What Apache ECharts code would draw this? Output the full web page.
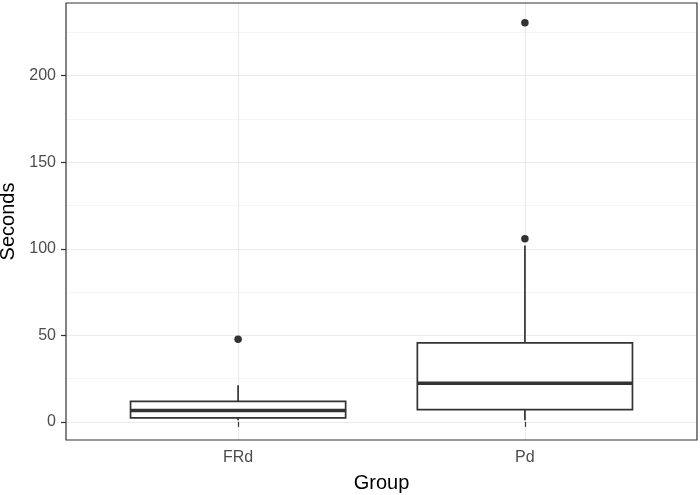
<!DOCTYPE html>
<html><head><meta charset="utf-8">
<script src="https://cdn.jsdelivr.net/npm/echarts@6/dist/echarts.min.js"></script>
<style>html,body{margin:0;padding:0;background:#fff}#c{width:700px;height:495px}</style>
</head><body><div id="c"></div>
<script>
const categories = ['FRd', 'Pd'];
const whiskerLow = [1.0, 1.0];
const q1 = [2.3, 7.1];
const median = [6.6, 22.3];
const q3 = [11.8, 45.6];
const whiskerHigh = [21.2, 101.9];
const outlierGroup = ['FRd', 'Pd', 'Pd'];
const outlierValue = [47.7, 105.8, 230.5];
const yTicks = [0, 50, 100, 150, 200];
const yMinorTicks = [25, 75, 125, 175, 225];

const boxData = categories.map((c, i) => [i + 1, whiskerLow[i], q1[i], median[i], q3[i], whiskerHigh[i]]);
const outlierData = outlierGroup.map((g, i) => [categories.indexOf(g) + 1, outlierValue[i]]);

const lo = Math.min(...whiskerLow, ...outlierValue);
const hi = Math.max(...whiskerHigh, ...outlierValue);
const pad = 0.05 * (hi - lo);
const yMin = lo - pad, yMax = hi + pad;
const xPos = categories.map((c, i) => i + 1);

const FONT = 'Liberation Sans, Arial, sans-serif';
const DARK = '#333333';

function renderBox(params, api) {
  const x = api.value(0);
  const hw = 0.375;
  const pLo = api.coord([x, api.value(1)]);
  const pQ1 = api.coord([x, api.value(2)]);
  const pMed = api.coord([x, api.value(3)]);
  const pQ3 = api.coord([x, api.value(4)]);
  const pHi = api.coord([x, api.value(5)]);
  const left = api.coord([x - hw, 0])[0];
  const right = api.coord([x + hw, 0])[0];
  const cx = pLo[0];
  const ls = { stroke: DARK, lineWidth: 1.7, fill: null };
  return {
    type: 'group', children: [
      { type: 'line', shape: { x1: cx, y1: pQ3[1], x2: cx, y2: pHi[1] }, style: ls },
      { type: 'line', shape: { x1: cx, y1: pQ1[1], x2: cx, y2: pLo[1] }, style: ls },
      { type: 'rect', shape: { x: left, y: pQ3[1], width: right - left, height: pQ1[1] - pQ3[1] }, style: { stroke: DARK, lineWidth: 1.7, fill: '#ffffff' } },
      { type: 'line', shape: { x1: left, y1: pMed[1], x2: right, y2: pMed[1] }, style: { stroke: DARK, lineWidth: 3.4 } }
    ]
  };
}

const chart = echarts.init(document.getElementById('c'), null, { renderer: 'canvas' });
chart.setOption({
  animation: false,
  backgroundColor: '#ffffff',
  textStyle: { fontFamily: FONT },
  grid: { left: 66, right: 3, top: 3, bottom: 55, show: true, borderColor: DARK, borderWidth: 1.2, backgroundColor: 'transparent', z: 10, outerBoundsMode: 'none', containLabel: false },
  xAxis: {
    type: 'value', min: 0.4, max: 2.6,
    axisLine: { show: false },
    axisTick: { show: true, customValues: xPos, length: 5, lineStyle: { color: DARK, width: 1.2 } },
    axisLabel: { customValues: xPos, formatter: v => categories[Math.round(v) - 1], fontSize: 16, color: '#4d4d4d', margin: 10, fontFamily: FONT },
    splitLine: { show: true, lineStyle: { color: '#ebebeb', width: 1.2 } },
    name: 'Group', nameLocation: 'middle', nameGap: 33,
    nameTextStyle: { fontSize: 20, color: '#000000', fontFamily: FONT }
  },
  yAxis: [{
    type: 'value', min: yMin, max: yMax,
    axisLine: { show: false },
    axisTick: { show: true, customValues: yTicks, length: 5, lineStyle: { color: DARK, width: 1.2 } },
    axisLabel: { customValues: yTicks, fontSize: 16, color: '#4d4d4d', margin: 10, fontFamily: FONT },
    splitLine: { show: true, lineStyle: { color: '#ebebeb', width: 1.2 } },
    name: 'Seconds', nameLocation: 'middle', nameGap: 42,
    nameTextStyle: { fontSize: 20, color: '#000000', fontFamily: FONT }
  }, {
    type: 'value', min: yMin, max: yMax, position: 'left',
    axisLine: { show: false },
    axisTick: { show: false, customValues: yMinorTicks },
    axisLabel: { show: false, customValues: yMinorTicks },
    splitLine: { show: true, lineStyle: { color: '#f2f2f2', width: 0.8 } }
  }],
  series: [{
    type: 'custom', renderItem: renderBox, data: boxData,
    encode: { x: 0, y: [1, 2, 3, 4, 5] }, clip: true, z: 2
  }, {
    type: 'scatter', data: outlierData, symbol: 'circle', symbolSize: 7.5,
    itemStyle: { color: DARK, opacity: 1 }, z: 3
  }]
});
</script></body></html>
